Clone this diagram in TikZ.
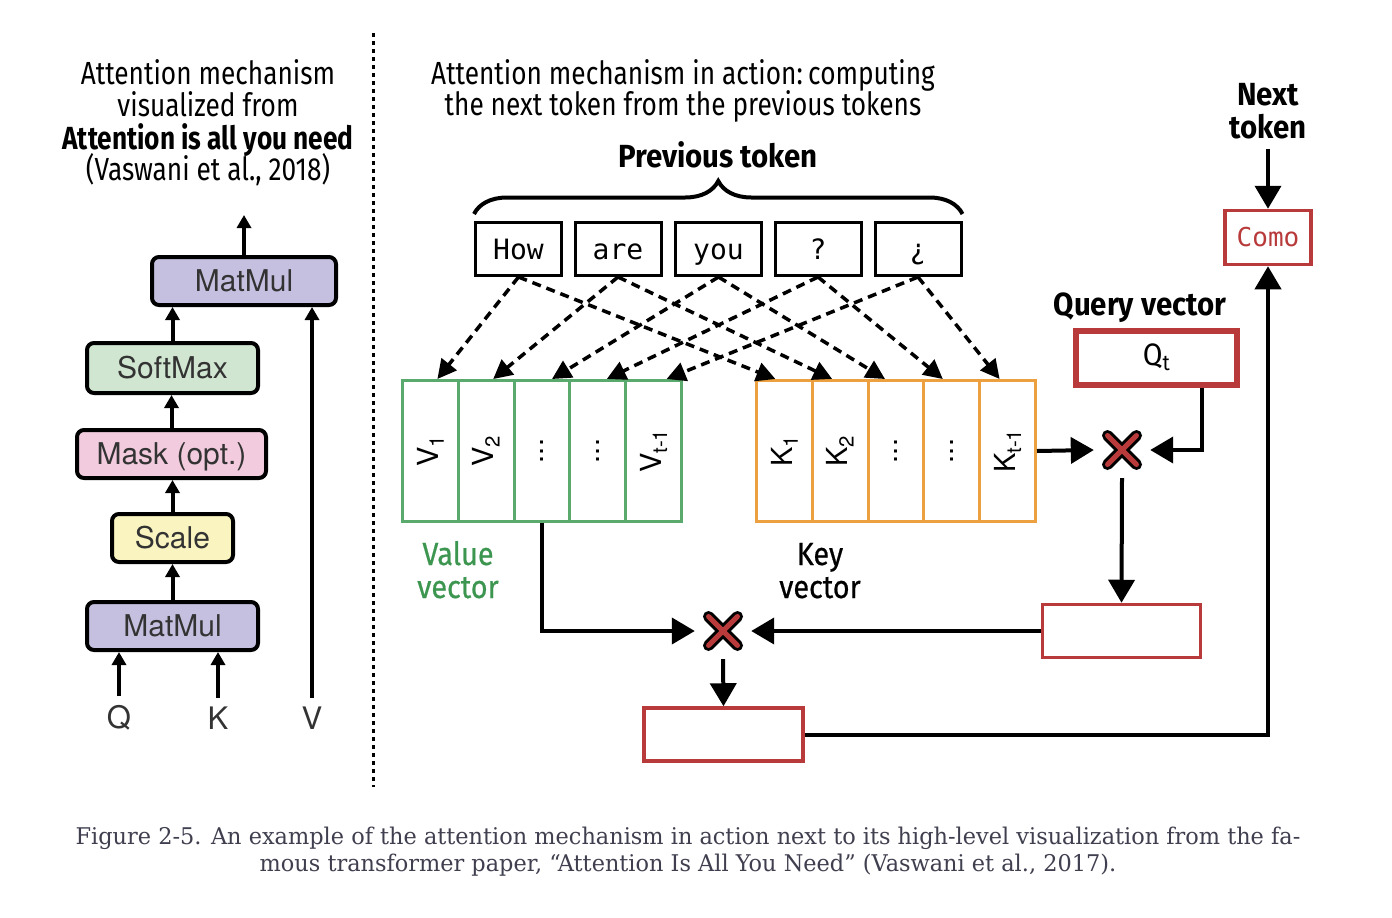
\documentclass[tikz,border=0pt]{standalone}
\usepackage{fontspec}
\usetikzlibrary{arrows.meta,decorations.pathreplacing,calc}
\newfontfamily\condf{Fira Sans}[FakeStretch=0.82]
\newfontfamily\condw{Fira Sans}[FakeStretch=0.92]
\newfontfamily\condm{Fira Sans}[FakeStretch=0.9, FakeBold=0.6]
\newfontfamily\helvf{TeX Gyre Heros}
\newfontfamily\monof{DejaVu Sans Mono}
\newfontfamily\capf{DejaVu Serif}[FakeStretch=0.975]
\definecolor{lav}{HTML}{C6C0E0}
\definecolor{mint}{HTML}{D0E6D0}
\definecolor{rose}{HTML}{F2CCDE}
\definecolor{cream}{HTML}{FAF5C0}
\definecolor{txtgray}{HTML}{333333}
\definecolor{vgreen}{HTML}{5AAA6E}
\definecolor{vtext}{HTML}{3C9650}
\definecolor{korange}{HTML}{ECA040}
\definecolor{qred}{HTML}{B83A3A}
\definecolor{capgray}{HTML}{3F3F4F}
\tikzset{
  lbox/.style={draw=black, line width=4pt, rounded corners=7pt, inner sep=0pt,
    font=\helvf\fontsize{30}{30}\selectfont, text=txtgray, text height=26pt, text depth=6pt},
  sarr/.style={line width=4pt, -{Triangle[length=13pt,width=14pt]}},
  arr/.style={line width=4pt, -{Triangle[length=23pt,width=26pt]}},
  darr/.style={line width=3.5pt, dash pattern=on 9pt off 6pt, -{Triangle[length=19pt,width=19pt]}},
  tok/.style={draw=black, line width=3pt, minimum width=86pt, minimum height=53pt, inner sep=0pt,
    font=\monof\fontsize{28}{28}\selectfont, text height=24pt, text depth=4pt},
  vcell/.style={draw=vgreen, line width=3pt, minimum width=55.8pt, minimum height=141pt, inner sep=0pt},
  kcell/.style={draw=korange, line width=3pt, minimum width=55.8pt, minimum height=141pt, inner sep=0pt},
  clab/.style={rotate=90, inner sep=0pt, font=\helvf\fontsize{29}{29}\selectfont},
  rbox/.style={draw=qred, line width=3.5pt, inner sep=0pt},
  ttl/.style={anchor=base, inner sep=0pt, font=\condf\fontsize{32}{32}\selectfont},
  lbl/.style={anchor=base, inner sep=0pt, font=\condm\fontsize{32}{32}\selectfont},
  blbl/.style={anchor=base, inner sep=0pt, font=\condw\bfseries\fontsize{32}{32}\selectfont},
  xnode/.style={minimum size=56pt, inner sep=0pt},
  capt/.style={anchor=base, inner sep=0pt, text=capgray, font=\capf\fontsize{23}{23}\selectfont},
  qkv/.style={inner sep=0pt, font=\helvf\fontsize{31}{31}\selectfont, text=txtgray}
}
\newcommand{\crossmark}[1]{%
  \draw[line width=11pt, line cap=round, black] ($(#1)+(-14.5,-14.5)$) -- ($(#1)+(14.5,14.5)$);
  \draw[line width=11pt, line cap=round, black] ($(#1)+(-14.5,14.5)$) -- ($(#1)+(14.5,-14.5)$);
  \draw[line width=5pt, line cap=round, qred] ($(#1)+(-14.5,-14.5)$) -- ($(#1)+(14.5,14.5)$);
  \draw[line width=5pt, line cap=round, qred] ($(#1)+(-14.5,14.5)$) -- ($(#1)+(14.5,-14.5)$);}
\begin{document}
\begin{tikzpicture}[x=1pt,y=-1pt]
\useasboundingbox (0,0) rectangle (1392,918);
\fill[white] (0,0) rectangle (1392,918);

% ---------- left part ----------
\node[ttl] (lt1) at (208,84) {Attention mechanism};
\node[ttl] (lt2) at (208,116) {visualized from};
\node[ttl, font=\condf\bfseries\fontsize{32}{32}\selectfont] (lt3) at (208,149) {Attention is all you need};
\node[ttl] (lt4) at (208,180) {(Vaswani et al., 2018)};

\draw[line width=3pt, dash pattern=on 4pt off 4pt] (373,33) coordinate (dtop) -- (373,787) coordinate (dbot);

\node[lbox, fill=lav, minimum width=184pt, minimum height=48pt] (mm2) at (244,281) {MatMul};
\node[lbox, fill=mint, minimum width=171pt, minimum height=50pt] (sm) at (172.5,368) {SoftMax};
\node[lbox, fill=rose, minimum width=189pt, minimum height=48pt] (mask) at (171.5,454) {Mask (opt.)};
\node[lbox, fill=cream, minimum width=121pt, minimum height=48pt] (scale) at (172.5,538) {Scale};
\node[lbox, fill=lav, minimum width=171pt, minimum height=48pt] (mm1) at (172.5,626) {MatMul};

\node[qkv] (Q) at (119,718) {Q};
\node[qkv] (K) at (218,718) {K};
\node[qkv] (V) at (312,718) {V};
\coordinate (qs) at ($(Q.north)+(0,-9)$);
\coordinate (ks) at ($(K.north)+(0,-9)$);
\coordinate (vs) at ($(V.north)+(0,-9)$);

\coordinate (outtop) at (244,215);
\draw[sarr] (mm2.north) -- (outtop);
\draw[sarr] (sm.north) -- (sm.north |- mm2.south);
\draw[sarr] (mask.north) -- (mask.north |- sm.south);
\draw[sarr] (scale.north) -- (scale.north |- mask.south);
\draw[sarr] (mm1.north) -- (mm1.north |- scale.south);
\draw[sarr] (qs) -- (qs |- mm1.south);
\draw[sarr] (ks) -- (ks |- mm1.south);
\draw[sarr] (vs) -- (vs |- mm2.south);

% ---------- right part ----------
\node[ttl] (rt1) at (683,84) {Attention mechanism in action:\,computing};
\node[ttl] (rt2) at (683,115.5) {the next token from the previous tokens};
\node[blbl] (prev) at (718,167) {Previous token};

\node[tok] (t1) at (518.5,249) {How};
\node[tok] (t2) at (618,249) {are};
\node[tok] (t3) at (718.5,249) {you};
\node[tok] (t4) at (818,249) {?};
\node[tok] (t5) at (918,249) {¿};

\draw[line width=4pt, decorate, decoration={brace, amplitude=33pt}]
  ($(t1.north west)+(0,-7)$) -- ($(t5.north east)+(0,-7)$);

\foreach \i/\x in {1/430.4,2/486.2,3/542,4/597.8,5/653.6}{
  \node[vcell] (v\i) at (\x,451) {};}
\foreach \i/\x in {1/784.4,2/840.2,3/896,4/951.8,5/1007.6}{
  \node[kcell] (k\i) at (\x,451) {};}

\node[clab] (lv1) at (v1) {V\textsubscript{1}};
\node[clab] (lv2) at (v2) {V\textsubscript{2}};
\node[clab] (lv3) at (v3) {...};
\node[clab] (lv4) at (v4) {...};
\node[clab] (lv5) at (v5) {V\textsubscript{t-1}};
\node[clab] (lk1) at (k1) {K\textsubscript{1}};
\node[clab] (lk2) at (k2) {K\textsubscript{2}};
\node[clab] (lk3) at (k3) {...};
\node[clab] (lk4) at (k4) {...};
\node[clab] (lk5) at (k5) {K\textsubscript{t-1}};

\draw[darr] (t1.south) -- ([xshift=7pt]v1.north);
\draw[darr] (t2.south) -- ([xshift=7pt]v2.north);
\draw[darr] (t3.south) -- ([xshift=10pt]v3.north);
\draw[darr] (t4.south) -- ([xshift=9pt]v4.north);
\draw[darr] (t5.south) -- ([xshift=13pt]v5.north);
\draw[darr] (t1.south) -- ([xshift=-9pt]k1.north);
\draw[darr] (t2.south) -- ([xshift=-8pt]k2.north);
\draw[darr] (t3.south) -- ([xshift=-11pt]k3.north);
\draw[darr] (t4.south) -- ([xshift=-9pt]k4.north);
\draw[darr] (t5.south) -- ([xshift=-8pt]k5.north);

\node[lbl, text=vtext] (val1) at (458,565) {Value};
\node[lbl, text=vtext] (val2) at (458,598) {vector};
\node[lbl] (key1) at (820,565) {Key};
\node[lbl] (key2) at (820,598) {vector};

\node[blbl] (qv) at (1140,315) {Query vector};
\node[draw=qred, line width=6pt, minimum width=161pt, minimum height=54pt, inner sep=0pt,
  font=\condw\fontsize{31}{31}\selectfont, text height=22pt, text depth=8pt] (qt) at (1156.5,358) {Q\textsubscript{t}};

\node[blbl] (nt1) at (1268,105) {Next};
\node[blbl] (nt2) at (1268,138) {token};
\node[rbox, minimum width=86pt, minimum height=54pt, text=qred,
  font=\monof\fontsize{26}{26}\selectfont, text height=21pt, text depth=3pt] (como) at (1268,237.5) {Como};

\node[xnode] (x1) at (1122,450) {};
\node[xnode] (x2) at (723,631) {};
\crossmark{x1}
\crossmark{x2}

\node[rbox, minimum width=158pt, minimum height=53pt] (rb) at (1121.5,631) {};
\node[rbox, minimum width=159pt, minimum height=53pt] (bb) at (723.5,734.5) {};

\draw[arr] (k5.east) -- (x1.west);
\draw[arr] ($(qt.south)+(45.5,0)$) |- (x1.east);
\draw[arr] (x1.south) -- (rb.north);
\draw[arr] (rb.west) -- (x2.east);
\draw[arr] (v3.south) |- (x2.west);
\draw[arr] (x2.south) -- (bb.north);
\draw[arr] (bb.east) -| (como.south);
\draw[arr] ($(nt2.south)+(0,10)$) -- (como.north);

% ---------- caption ----------
\node[capt] (cap1) at (688,844) {Figure 2-5. An example of the attention mechanism in action next to its high-level visualization from the fa-};
\node[capt] (cap2) at (688,871) {mous transformer paper, “Attention Is All You Need” (Vaswani et al., 2017).};
\end{tikzpicture}
\end{document}
